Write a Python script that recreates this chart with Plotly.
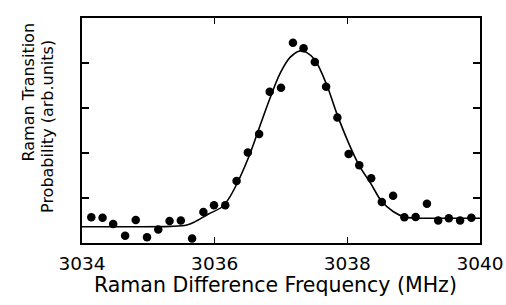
import plotly.graph_objects as go

# Measured points (Raman difference frequency in MHz, probability in arb. units)
freq_mhz = [3034.14, 3034.31, 3034.47, 3034.65, 3034.81, 3034.98, 3035.15, 3035.32,
            3035.49, 3035.66, 3035.83, 3035.99, 3036.16, 3036.33, 3036.50, 3036.67,
            3036.83, 3037.00, 3037.18, 3037.34, 3037.51, 3037.68, 3037.85, 3038.02,
            3038.18, 3038.36, 3038.52, 3038.69, 3038.86, 3039.03, 3039.20, 3039.37,
            3039.53, 3039.70, 3039.87]
probability = [0.57, 0.56, 0.42, 0.16, 0.51, 0.13, 0.30, 0.49,
               0.50, 0.10, 0.69, 0.84, 0.84, 1.38, 2.01, 2.42,
               3.36, 3.45, 4.45, 4.33, 4.02, 3.47, 2.79, 1.98,
               1.73, 1.44, 0.91, 1.05, 0.57, 0.58, 0.87, 0.50,
               0.55, 0.50, 0.56]

# Fitted line
fit_freq = [3034.00, 3034.72, 3035.33, 3035.58, 3035.70, 3035.90, 3036.11, 3036.21,
            3036.33, 3036.51, 3036.67, 3036.83, 3036.99, 3037.14, 3037.29, 3037.39,
            3037.51, 3037.69, 3037.84, 3038.02, 3038.18, 3038.35, 3038.52, 3038.69,
            3038.86, 3039.02, 3039.25, 3040.00]
fit_prob = [0.36, 0.36, 0.37, 0.40, 0.47, 0.64, 0.80, 0.98,
            1.30, 1.90, 2.55, 3.20, 3.78, 4.13, 4.27, 4.23,
            4.07, 3.51, 2.88, 2.22, 1.72, 1.33, 0.92, 0.70,
            0.58, 0.555, 0.55, 0.55]

x_ticks = [3034, 3036, 3038, 3040]
x_tick_labels = ["3034", "3036", "3038", "3040"]
y_ticks = [0, 1, 2, 3, 4, 5]

x_title = "Raman Difference Frequency (MHz)"
y_title_1 = "Raman Transition"
y_title_2 = "Probability (arb.units)"

fig = go.Figure()
fig.add_trace(go.Scatter(x=fit_freq, y=fit_prob, mode="lines",
                         line=dict(color="black", width=1.6, shape="spline", smoothing=1.0),
                         showlegend=False, hoverinfo="skip"))
fig.add_trace(go.Scatter(x=freq_mhz, y=probability, mode="markers",
                         marker=dict(color="black", size=8.5),
                         showlegend=False))

axis_common = dict(showline=True, linecolor="black", linewidth=2, mirror="ticks",
                   ticks="inside", tickcolor="black", tickwidth=1.5,
                   showgrid=False, zeroline=False, automargin=False)

fig.update_xaxes(range=[3034, 3040], tickvals=x_ticks, ticktext=x_tick_labels,
                 ticklen=6, tickfont=dict(family="DejaVu Sans", size=18.5, color="black"),
                 ticklabelstandoff=3, **axis_common)
fig.update_yaxes(range=[0, 5], tickvals=y_ticks, showticklabels=False,
                 ticklen=7, **axis_common)

fig.update_layout(
    width=506, height=305,
    margin=dict(l=82, r=26, t=18, b=62, autoexpand=False),
    plot_bgcolor="white", paper_bgcolor="white",
    annotations=[
        dict(text=x_title, xref="paper", yref="paper", x=0.485, y=-0.185,
             xanchor="center", yanchor="middle", showarrow=False,
             font=dict(family="DejaVu Sans", size=20.5, color="black")),
        dict(text=y_title_1, xref="paper", yref="paper", x=-0.135, y=0.67,
             xanchor="center", yanchor="middle", showarrow=False, textangle=-90,
             font=dict(family="DejaVu Sans", size=16, color="black")),
        dict(text=y_title_2, xref="paper", yref="paper", x=-0.088, y=0.52,
             xanchor="center", yanchor="middle", showarrow=False, textangle=-90,
             font=dict(family="DejaVu Sans", size=16, color="black")),
    ],
)

# Remove the browser's default 8px body margin so the 506x305 figure fills the window.
fig.write_html("out.html",
               config={"displayModeBar": False, "staticPlot": True},
               post_script="document.body.style.margin='0';document.body.style.overflow='hidden';")
